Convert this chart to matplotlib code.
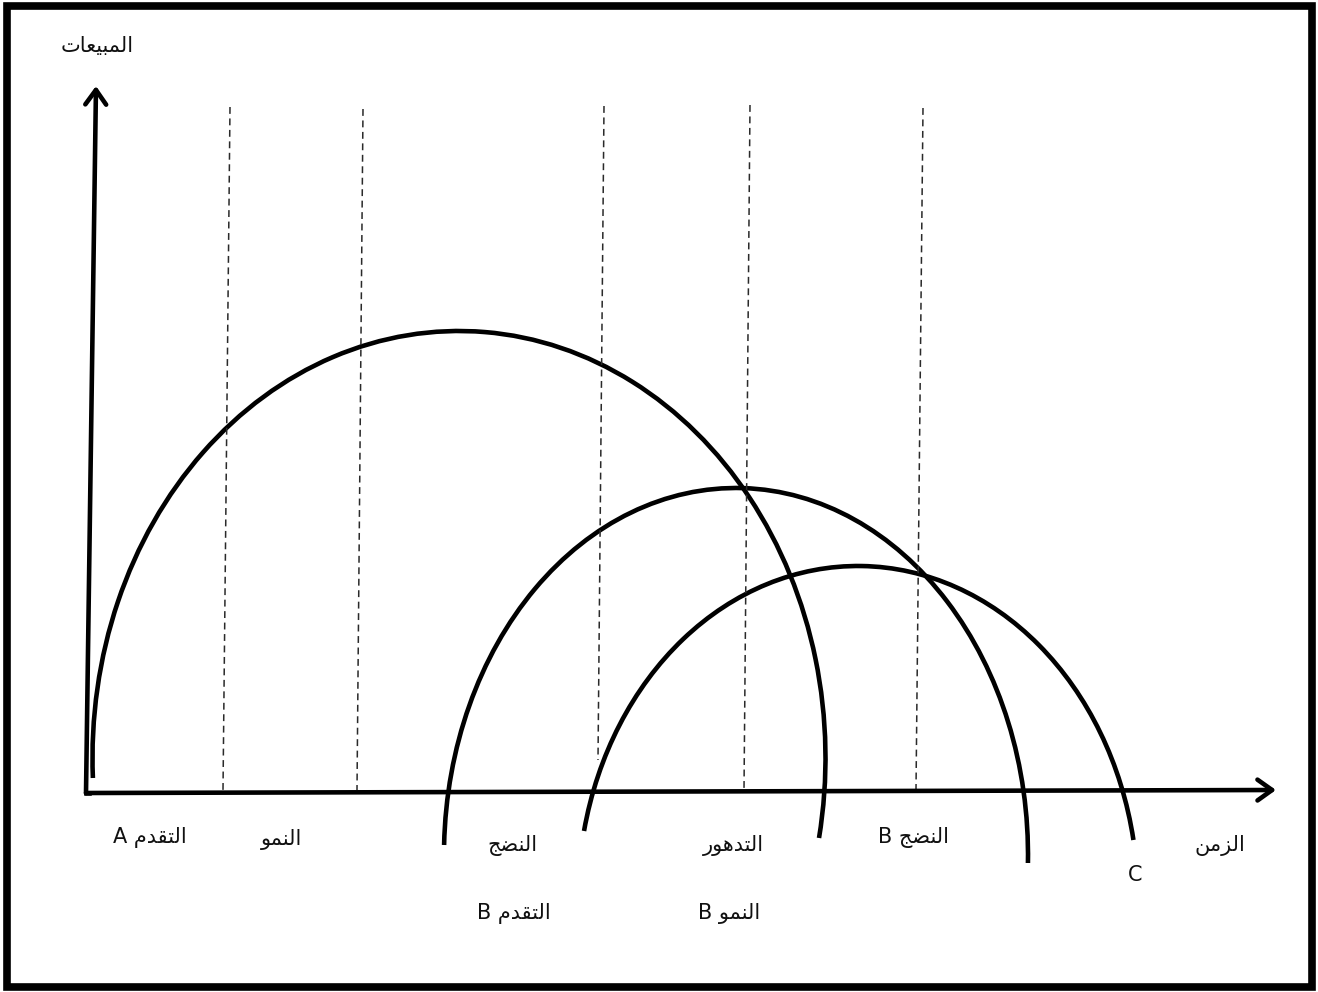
import numpy as np
import matplotlib
matplotlib.use("Agg")
import matplotlib.pyplot as plt
from matplotlib.patches import Arc, Rectangle

W, H = 1318, 992

# ---------------- data (drawing coordinates, y grows downward) ----------------
arc_names = ["A", "B", "C"]
arc_cx = [459.0, 736.0, 858.0]
arc_cy = [758.0, 855.0, 900.0]
arc_a = [366.5, 292.0, 280.0]      # half widths
arc_b = [427.0, 367.0, 334.0]      # half heights
arc_start_y = [778.0, 845.0, 831.0]  # left ends
arc_end_y = [838.0, 863.0, 840.0]    # right ends

stage_x_top = [230, 363, 604, 750, 923]
stage_x_bot = [223, 357, 598, 744, 916]
stage_y_top = [107, 109, 106, 105, 108]
stage_y_bot = [790, 790, 760, 790, 790]

axis_origin = (86, 793)
y_axis_tip = (96, 86)
x_axis_tip = (1276, 790)

labels = ["المبيعات", "التقدم A", "النمو", "النضج", "التقدم B",
          "التدهور", "النمو B", "النضج B", "الزمن", "C"]
label_x = [97, 150, 282, 512, 514, 733, 729, 913, 1220, 1135]
label_y = [46, 838, 840, 846, 914, 846, 914, 837, 846, 875]

# ---------------- simple Arabic shaping (presentation forms) ----------------
FORMS = {
    'ا': ('\uFE8D', '\uFE8E', None, None),
    'ل': ('\uFEDD', '\uFEDE', '\uFEDF', '\uFEE0'),
    'م': ('\uFEE1', '\uFEE2', '\uFEE3', '\uFEE4'),
    'ب': ('\uFE8F', '\uFE90', '\uFE91', '\uFE92'),
    'ي': ('\uFEF1', '\uFEF2', '\uFEF3', '\uFEF4'),
    'ع': ('\uFEC9', '\uFECA', '\uFECB', '\uFECC'),
    'ت': ('\uFE95', '\uFE96', '\uFE97', '\uFE98'),
    'ق': ('\uFED5', '\uFED6', '\uFED7', '\uFED8'),
    'د': ('\uFEA9', '\uFEAA', None, None),
    'ن': ('\uFEE5', '\uFEE6', '\uFEE7', '\uFEE8'),
    'و': ('\uFEED', '\uFEEE', None, None),
    'ض': ('\uFEBD', '\uFEBE', '\uFEBF', '\uFEC0'),
    'ج': ('\uFE9D', '\uFE9E', '\uFE9F', '\uFEA0'),
    'ز': ('\uFEAF', '\uFEB0', None, None),
    'ه': ('\uFEE9', '\uFEEA', '\uFEEB', '\uFEEC'),
    'ر': ('\uFEAD', '\uFEAE', None, None),
}


def shape_word(w):
    out = []
    for i, ch in enumerate(w):
        f = FORMS.get(ch)
        if f is None:
            out.append(ch)
            continue
        prev = w[i - 1] if i > 0 else None
        nxt = w[i + 1] if i + 1 < len(w) else None
        jp = prev in FORMS and FORMS[prev][2] is not None
        jn = nxt in FORMS and f[2] is not None
        if jp and jn:
            g = f[3]
        elif jp:
            g = f[1]
        elif jn:
            g = f[2]
        else:
            g = f[0]
        out.append(g)
    return ''.join(reversed(out))


def visual(label):
    toks = label.split(' ')
    res = []
    for t in reversed(toks):
        if any(c in FORMS for c in t):
            res.append(shape_word(t))
        else:
            res.append(t)
    return ' '.join(res)


# ---------------- figure ----------------
fig = plt.figure(figsize=(W / 100, H / 100), dpi=100)
ax = fig.add_axes([0, 0, 1, 1])
ax.set_xlim(0, W)
ax.set_ylim(H, 0)
ax.axis('off')

# outer frame
ax.add_patch(Rectangle((7.0, 5.5), 1305.0, 981.5, fill=False, lw=5.5, ec='black'))

# dashed stage lines
for xt, xb, yt, yb in zip(stage_x_top, stage_x_bot, stage_y_top, stage_y_bot):
    ax.plot([xt, xb], [yt, yb], color='#2a2a2a', lw=1.1, linestyle=(0, (4.5, 3)))

# axes arrows
arrow_kw = dict(arrowstyle="->,head_length=0.42,head_width=0.3", lw=3.3,
                color='black', shrinkA=0, shrinkB=0, mutation_scale=25)
ax.annotate("", xy=y_axis_tip, xytext=axis_origin, arrowprops=arrow_kw)
ax.annotate("", xy=x_axis_tip, xytext=axis_origin, arrowprops=arrow_kw)
ax.plot([axis_origin[0], axis_origin[0] + 3], [axis_origin[1], axis_origin[1]],
        color='black', lw=3.3, solid_capstyle='projecting')

# life-cycle arcs
for cx, cy, a, b, ys, ye in zip(arc_cx, arc_cy, arc_a, arc_b, arc_start_y, arc_end_y):
    t1 = np.pi - np.arcsin((ys - cy) / b)
    t2 = 2 * np.pi + np.arcsin((ye - cy) / b)
    p1 = np.degrees(np.arctan2(b * np.sin(t1), a * np.cos(t1)))
    p2 = np.degrees(np.arctan2(b * np.sin(t2), a * np.cos(t2))) + 360
    ax.add_patch(Arc((cx, cy), 2 * a, 2 * b, theta1=p1, theta2=p2,
                     lw=3.3, color='black'))

# labels
for s, x, y in zip(labels, label_x, label_y):
    ax.text(x, y, visual(s), ha='center', va='center', fontsize=15,
            color='#111111', family=['DejaVu Sans'])

fig.savefig("out.png", dpi=100)
